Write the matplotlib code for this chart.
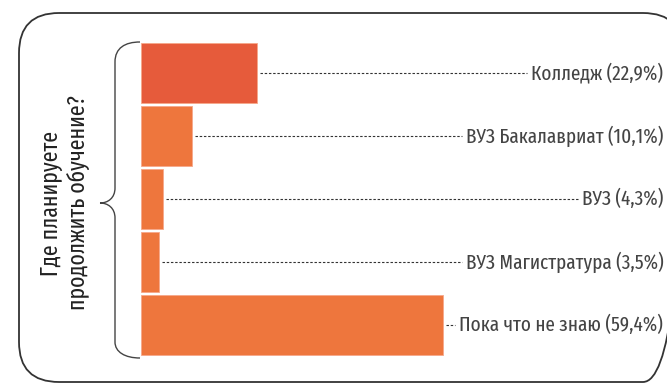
import matplotlib
matplotlib.use("Agg")
import matplotlib.pyplot as plt
from matplotlib.path import Path
import matplotlib.patches as mpatches
from matplotlib import font_manager

# data
categories = ["Колледж", "ВУЗ Бакалавриат", "ВУЗ", "ВУЗ Магистратура", "Пока что не знаю"]
values = [22.9, 10.1, 4.3, 3.5, 59.4]
value_labels = ["22,9%", "10,1%", "4,3%", "3,5%", "59,4%"]
bar_colors = ["#E65B3B", "#EE763D", "#EE763D", "#EE763D", "#EE763D"]
question = "Где планируете\nпродолжить обучение?"

names = {f.name for f in font_manager.fontManager.ttflist}
font = "DejaVu Sans"
for cand in ["Fira Sans Extra Condensed", "Roboto Condensed", "PT Sans Narrow"]:
    if cand in names:
        font = cand
        break
plt.rcParams["font.family"] = [font, "DejaVu Sans"]

W, H = 667, 383
fig = plt.figure(figsize=(W / 100, H / 100), dpi=100)

# overlay in pixel coords for the frame and brace
deco = fig.add_axes([0, 0, 1, 1])
deco.set_xlim(0, W)
deco.set_ylim(H, 0)
deco.axis("off")

frame = mpatches.FancyBboxPatch((19, 13), 664, 369,
                                boxstyle="round,pad=0,rounding_size=40",
                                fill=False, edgecolor="#333333", linewidth=1.3)
deco.add_patch(frame)

M, C = Path.MOVETO, Path.CURVE4
L = Path.LINETO
verts = [(140, 42), (125, 42), (115, 48), (115, 62),
         (115, 188),
         (115, 198), (108, 203), (100, 203),
         (108, 203), (115, 208), (115, 218),
         (115, 342),
         (115, 352), (125, 358), (140, 358)]
codes = [M, C, C, C, L, C, C, C, C, C, C, L, C, C, C]
deco.add_patch(mpatches.PathPatch(Path(verts, codes), fill=False,
                                  edgecolor="#444444", linewidth=1.0))

deco.text(65, 203, question, rotation=90, ha="center", va="center",
          fontsize=17, color="#222222", linespacing=1.15)

# bar axes
left_px, right_px = 141, W
top_px, step = 41.5, 63
n = len(values)
ax = fig.add_axes([left_px / W, (H - top_px - n * step) / H,
                   (right_px - left_px) / W, n * step / H])
ax.set_zorder(2)
ax.patch.set_alpha(0)
scale = (443 - 141) / 59.4
ax.set_xlim(0, (right_px - left_px) / scale)
ax.set_ylim(n - 0.5, -0.5)
ax.axis("off")

pos = list(range(n))
ax.barh(pos, values, height=0.955, color=bar_colors,
        edgecolor="#F6A88A", linewidth=0.6)

fig.canvas.draw()
r = fig.canvas.get_renderer()
inv = ax.transData.inverted()
for i, (cat, lab, v) in enumerate(zip(categories, value_labels, values)):
    t = ax.text(0.993, i, f"{cat} ({lab})", transform=ax.get_yaxis_transform(),
                ha="right", va="center", fontsize=15, color="#444444")
    bb = t.get_window_extent(renderer=r)
    x_end = inv.transform((bb.x0 - 4, 0))[0]
    ax.plot([v + 0.6, x_end], [i, i], linestyle=(0, (2.2, 1.6)),
            color="#333333", linewidth=0.8)

fig.savefig("out.png", dpi=100)
